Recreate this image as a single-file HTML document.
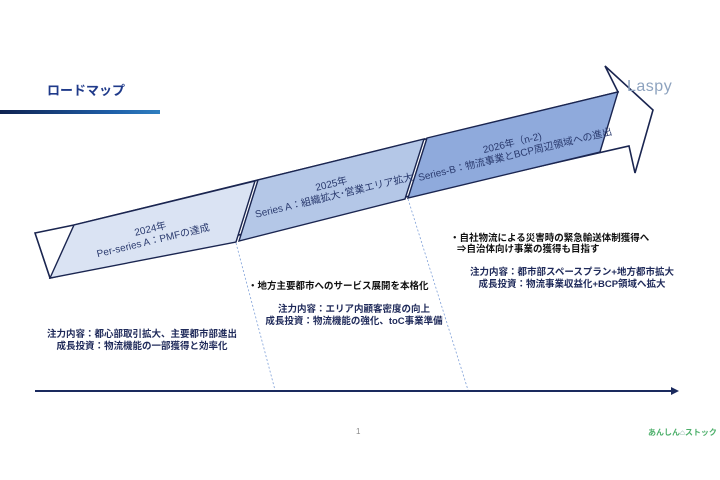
<!DOCTYPE html>
<html><head><meta charset="utf-8"><style>
html,body{margin:0;padding:0;width:720px;height:480px;background:#fff;overflow:hidden;font-family:"Liberation Sans","Noto Sans CJK JP",sans-serif;}
.t{position:absolute;white-space:nowrap;color:#1f2a5a;font-size:9.5px;font-weight:bold;}
.c{transform:translateX(-50%);text-align:center;}
.r{position:absolute;white-space:nowrap;color:#2a3a6e;font-size:10px;text-align:center;line-height:12px;transform:translate(-50%,-50%) rotate(-13.5deg);}
</style></head><body>
<div style="position:absolute;left:47px;top:80px;font-size:13px;font-weight:bold;color:#1f3a8a;">ロードマップ</div>
<div style="position:absolute;left:0;top:110px;width:160px;height:4px;background:linear-gradient(90deg,#0f2250,#1f5fa8 70%,#2f7fc0);"></div>
<svg width="720" height="480" style="position:absolute;left:0;top:0">
<polygon points="35,233 74,225 618,92 605,66 653,110 635,173 629,146 50,278" fill="#fff" stroke="#1a2550" stroke-width="1.6" stroke-linejoin="miter"/>
<polygon points="74,225 255,181 236,242 50,278" fill="#dae3f3" stroke="#1a2550" stroke-width="1.4"/>
<polygon points="258,180 424,139 405,199 239,241" fill="#b4c7e7" stroke="#1a2550" stroke-width="1.4"/>
<polygon points="427,138 618,92 600,152 408,198" fill="#8faadc" stroke="#1a2550" stroke-width="1.4"/>
<line x1="236" y1="243" x2="275" y2="390" stroke="#7fa0d8" stroke-width="0.8" stroke-dasharray="2,2"/>
<line x1="408" y1="199" x2="468" y2="390" stroke="#7fa0d8" stroke-width="0.8" stroke-dasharray="2,2"/>
<line x1="35" y1="391" x2="672" y2="391" stroke="#1a2a5e" stroke-width="2"/>
<polygon points="671,387 679,391 671,395" fill="#1a2a5e"/>
</svg>
<div style="position:absolute;left:627px;top:78px;font-size:16px;color:#8ea3bf;letter-spacing:0.5px;">Laspy</div>
<div class="r" style="left:152px;top:236px;">2024年<br>Per-series A：PMFの達成</div>
<div class="r" style="left:333px;top:191px;">2025年<br>Series A：組織拡大･営業エリア拡大</div>
<div class="r" style="left:514px;top:150px;">2026年（n-2)<br>Series-B：物流事業とBCP周辺領域への進出</div>
<div class="t" style="left:450px;top:230px;color:#111;">・自社物流による災害時の緊急輸送体制獲得へ</div>
<div class="t" style="left:457px;top:241px;color:#111;">⇒自治体向け事業の獲得も目指す</div>
<div class="t c" style="left:572px;top:264px;">注力内容：都市部スペースプラン+地方都市拡大</div>
<div class="t c" style="left:572px;top:276px;">成長投資：物流事業収益化+BCP領域へ拡大</div>
<div class="t" style="left:248px;top:278px;color:#111;">・地方主要都市へのサービス展開を本格化</div>
<div class="t c" style="left:354px;top:301px;">注力内容：エリア内顧客密度の向上</div>
<div class="t c" style="left:354px;top:313px;">成長投資：物流機能の強化、toC事業準備</div>
<div class="t c" style="left:142px;top:326px;">注力内容：都心部取引拡大、主要都市部進出</div>
<div class="t c" style="left:142px;top:338px;">成長投資：物流機能の一部獲得と効率化</div>
<div style="position:absolute;left:356px;top:427px;font-size:8px;color:#888;">1</div>
<div style="position:absolute;left:648px;top:427px;font-size:8px;font-weight:bold;color:#4caf6a;white-space:nowrap;">あんしん<span style="color:#7a9">⌂</span>ストック</div>
</body></html>
